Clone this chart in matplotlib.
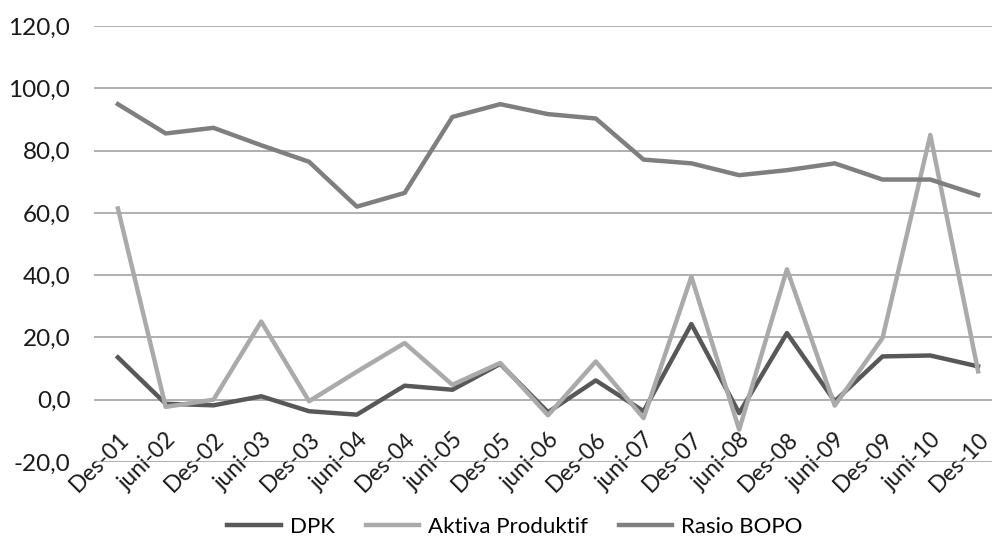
import matplotlib
matplotlib.use("Agg")
import matplotlib.pyplot as plt

categories = ["Des-01", "juni-02", "Des-02", "juni-03", "Des-03", "juni-04", "Des-04",
              "juni-05", "Des-05", "juni-06", "Des-06", "juni-07", "Des-07", "juni-08",
              "Des-08", "juni-09", "Des-09", "juni-10", "Des-10"]
dpk = [13.6, -1.3, -1.8, 1.1, -3.7, -4.8, 4.5, 3.2, 11.5, -4.0, 6.2, -3.7, 24.3, -4.3,
       21.4, -0.5, 13.9, 14.2, 10.7]
aktiva = [61.4, -2.3, 0.0, 25.1, -0.5, 9.0, 18.2, 4.8, 11.8, -5.0, 12.3, -5.9, 39.5, -9.6,
          41.9, -1.9, 19.8, 85.0, 9.1]
bopo = [94.9, 85.5, 87.3, 81.7, 76.4, 62.0, 66.4, 90.8, 94.9, 91.7, 90.3, 77.1, 75.9, 72.1,
        73.7, 75.9, 70.7, 70.7, 65.7]
yticks = [-20, 0, 20, 40, 60, 80, 100, 120]

plt.rcParams['font.family'] = ['Lato', 'DejaVu Sans']
W, H = 992, 543
fig = plt.figure(figsize=(W / 100, H / 100), dpi=100)
left, right, top, bottom = 94, 1002, 26, 462
ax = fig.add_axes([left / W, 1 - bottom / H, (right - left) / W, (bottom - top) / H])

x = list(range(len(categories)))
ax.plot(x, dpk, color='#585858', lw=3.2, label='DPK', solid_joinstyle='round', zorder=3)
ax.plot(x, aktiva, color='#aaaaaa', lw=3.2, label='Aktiva Produktif', solid_joinstyle='round', zorder=3)
ax.plot(x, bopo, color='#7f7f7f', lw=3.2, label='Rasio BOPO', solid_joinstyle='round', zorder=3)

ax.set_xlim(-0.5, len(categories) - 0.5)
ax.set_ylim(-20, 120)
ax.set_yticks(yticks)
ax.set_yticklabels([f"{v:.1f}".replace('.', ',') for v in yticks], fontsize=17.5, color='#1a1a1a')
ax.yaxis.grid(True, color='#9a9a9a', lw=1.1)
ax.set_axisbelow(True)
ax.tick_params(axis='y', length=0, pad=17)

ax.spines['bottom'].set_position(('data', 0))
for s in ['top', 'right', 'left', 'bottom']:
    ax.spines[s].set_visible(False)
ax.set_xticks(x)
ax.set_xticklabels(categories, rotation=45, ha='right', rotation_mode='anchor',
                   fontsize=16.5, color='#1a1a1a')
ax.tick_params(axis='x', length=0, pad=21)

fig.legend(loc='center', bbox_to_anchor=(515 / W, 1 - 527 / H), ncol=3, frameon=False,
           fontsize=16, handlelength=2.4, columnspacing=1.4, handletextpad=0.4)

fig.savefig('out.png', dpi=100)
